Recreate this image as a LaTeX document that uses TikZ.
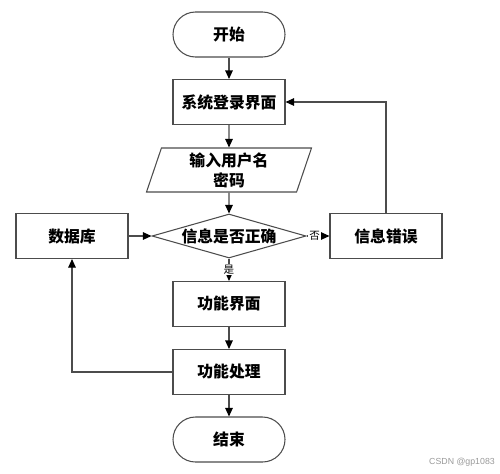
\documentclass[tikz,border=0pt]{standalone}
\usepackage{fontspec}
\newfontfamily\cjk{Noto Sans CJK SC}
\newfontfamily\wmfont{Liberation Sans}
\usetikzlibrary{shapes.geometric,arrows.meta}

\tikzset{
	box/.style={draw=black!70, line width=0.6pt, minimum width=2.24cm, minimum height=0.9cm, inner sep=1pt, font=\cjk\bfseries\fontsize{9}{11.5}\selectfont},
	term/.style={box, rounded corners=0.45cm},
	io/.style={box, trapezium, trapezium left angle=69, trapezium right angle=111, trapezium stretches body, minimum width=3.3cm, minimum height=0.88cm, align=center},
	decide/.style={box, diamond, aspect=3.5, minimum width=3.08cm, minimum height=0.88cm, inner sep=0pt},
	line/.style={draw=black!70, line width=0.6pt, -{Triangle[length=0.17cm,width=0.15cm,color=black]}},
	lbl/.style={fill=white, inner sep=0.5pt, font=\cjk\fontsize{6}{7}\selectfont}
}

\begin{document}
\begin{tikzpicture}
	\useasboundingbox (0,0) rectangle (10,-9.46);
	% main column
	\node[term] (start) at (4.58,-0.69) {开始};
	\node[box] (login) at (4.58,-2.04) {系统登录界面};
	\node[io] (input) at (4.58,-3.40) {输入用户名\\密码};
	\node[decide] (check) at (4.58,-4.72) {信息是否正确};
	\node[box] (func) at (4.58,-6.08) {功能界面};
	\node[box] (proc) at (4.58,-7.44) {功能处理};
	\node[term] (stop) at (4.58,-8.79) {结束};
	% side boxes
	\node[box] (db) at (1.44,-4.72) {数据库};
	\node[box] (err) at (7.72,-4.72) {信息错误};

	\draw[line] (start) -- (login);
	\draw[line] (login) -- (input);
	\draw[line] (input) -- (check);
	\draw[line] (db) -- (check);
	\draw[line] (check) -- node[lbl, pos=0.35] {否} (err);
	\draw[line] (check) -- node[lbl] {是} (func);
	\draw[line] (func) -- (proc);
	\draw[line] (proc) -- (stop);
	% loops back
	\draw[line] (err.north) |- (login.east);
	\draw[line] (proc.west) -| (db.south);

	\node[text=black!40, font=\wmfont\fontsize{5}{6}\selectfont] (mark) at (9.24,-9.25) {CSDN @gp1083};
\end{tikzpicture}
\end{document}
